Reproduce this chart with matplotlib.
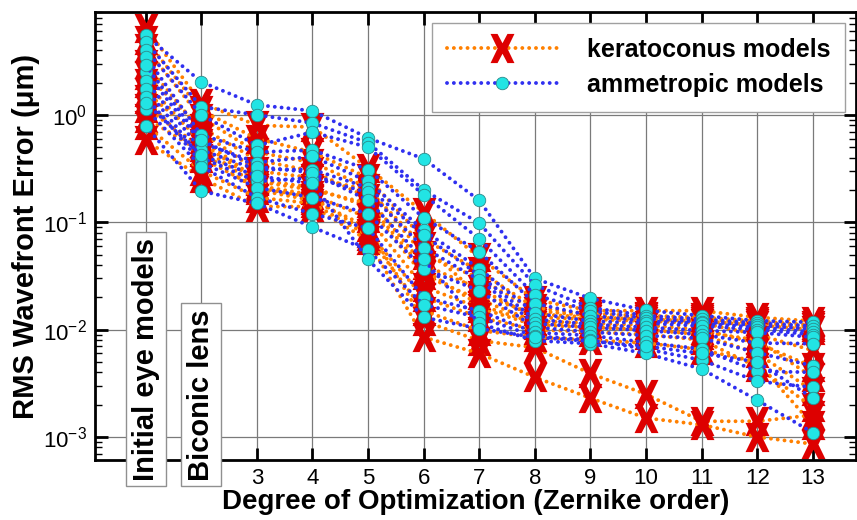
import numpy as np
import matplotlib
matplotlib.use("Agg")
import matplotlib.pyplot as plt
from matplotlib.path import Path
from matplotlib.transforms import blended_transform_factory
from matplotlib.ticker import LogLocator, NullFormatter, FixedLocator

plt.rcParams['font.family'] = ['Liberation Sans', 'DejaVu Sans']
plt.rcParams['mathtext.fontset'] = 'custom'
plt.rcParams['mathtext.rm'] = 'Liberation Sans'
plt.rcParams['mathtext.it'] = 'Liberation Sans:italic'
plt.rcParams['mathtext.bf'] = 'Liberation Sans:bold'

# Zernike optimization degree (1 = initial eye model, 2 = biconic lens)
degree = list(range(1, 14))
xtick_labels = ["", "", "3", "4", "5", "6", "7", "8", "9", "10", "11", "12", "13"]

# RMS wavefront error (um) of the keratoconus eye models
keratoconus = [
    [6.5, 1.29, 0.80, 0.77, 0.32, 0.124, 0.047, 0.019, 0.0150, 0.0150, 0.0150, 0.0130, 0.0120],
    [4.2, 0.94, 0.45, 0.36, 0.21, 0.050, 0.030, 0.0150, 0.0135, 0.0130, 0.0125, 0.0115, 0.0105],
    [2.36, 0.76, 0.38, 0.30, 0.17, 0.040, 0.024, 0.0130, 0.0125, 0.0120, 0.0115, 0.0090, 0.0064],
    [1.64, 0.60, 0.25, 0.21, 0.14, 0.032, 0.019, 0.0120, 0.0115, 0.0110, 0.0100, 0.0075, 0.0045],
    [1.16, 0.50, 0.22, 0.18, 0.11, 0.025, 0.016, 0.0110, 0.0105, 0.0100, 0.0090, 0.0060, 0.0027],
    [0.94, 0.45, 0.20, 0.16, 0.09, 0.012, 0.0079, 0.0068, 0.0039, 0.0025, 0.0014, 0.0014, 0.0016],
    [0.58, 0.26, 0.14, 0.14, 0.068, 0.0085, 0.0060, 0.0036, 0.0023, 0.0015, 0.0013, 0.0010, 0.00086],
    [3.0, 0.70, 0.30, 0.26, 0.20, 0.060, 0.021, 0.0140, 0.0130, 0.0125, 0.0120, 0.0110, 0.0100],
    [2.0, 0.55, 0.24, 0.20, 0.15, 0.036, 0.017, 0.0115, 0.0110, 0.0105, 0.0095, 0.0080, 0.0036],
    [1.4, 0.40, 0.21, 0.17, 0.08, 0.020, 0.013, 0.0100, 0.0095, 0.0090, 0.0080, 0.0045, 0.0019],
    [5.0, 1.10, 0.60, 0.45, 0.26, 0.070, 0.035, 0.0160, 0.0140, 0.0135, 0.0130, 0.0120, 0.0110],
    [0.80, 0.30, 0.17, 0.15, 0.075, 0.015, 0.0098, 0.0085, 0.0080, 0.0075, 0.0065, 0.0050, 0.0013],
]

# RMS wavefront error (um) of the ammetropic eye models
ammetropic = [
    [5.5, 2.03, 1.24, 1.09, 0.61, 0.39, 0.16, 0.030, 0.0195, 0.0151, 0.0135, 0.0121, 0.0117],
    [4.8, 1.19, 1.00, 0.84, 0.55, 0.20, 0.098, 0.026, 0.016, 0.0135, 0.0125, 0.0115, 0.0108],
    [4.05, 1.00, 0.52, 0.69, 0.50, 0.18, 0.070, 0.021, 0.0150, 0.0127, 0.0118, 0.0110, 0.0101],
    [3.5, 0.65, 0.45, 0.47, 0.31, 0.11, 0.053, 0.0175, 0.0135, 0.0120, 0.0114, 0.0105, 0.0095],
    [2.5, 0.55, 0.36, 0.41, 0.24, 0.084, 0.037, 0.0142, 0.0120, 0.0115, 0.0108, 0.0100, 0.0090],
    [2.08, 0.47, 0.31, 0.31, 0.21, 0.076, 0.032, 0.0125, 0.0112, 0.0105, 0.0098, 0.0094, 0.0085],
    [1.75, 0.40, 0.24, 0.26, 0.19, 0.058, 0.029, 0.0114, 0.0105, 0.0098, 0.0090, 0.0075, 0.0074],
    [1.48, 0.36, 0.21, 0.17, 0.12, 0.037, 0.023, 0.0105, 0.0095, 0.0088, 0.0083, 0.0061, 0.0046],
    [1.14, 0.33, 0.17, 0.12, 0.088, 0.020, 0.015, 0.0094, 0.0088, 0.0076, 0.0066, 0.0041, 0.0040],
    [0.79, 0.195, 0.15, 0.09, 0.055, 0.017, 0.013, 0.0087, 0.0080, 0.0066, 0.0052, 0.0033, 0.0029],
    [2.9, 0.58, 0.33, 0.29, 0.16, 0.045, 0.0114, 0.0079, 0.0074, 0.0060, 0.0043, 0.0022, 0.0011],
    [1.3, 0.42, 0.27, 0.23, 0.045, 0.013, 0.0102, 0.0085, 0.0078, 0.0070, 0.0060, 0.0050, 0.0023],
]

# tall letter-like "X" marker
t = 0.24   # half arm thickness
w, h = 0.82, 1.0
xverts = np.array([
    (-w, h), (-w + 2 * t, h), (0, t * 1.5), (w - 2 * t, h), (w, h),
    (t * 1.4, 0), (w, -h), (w - 2 * t, -h), (0, -t * 1.5), (-w + 2 * t, -h),
    (-w, -h), (-t * 1.4, 0), (-w, h)])
x_marker = Path(xverts, closed=True)

orange = '#ff8000'
blue = '#3030f0'
red = '#dd0000'
cyan = '#22e4e4'
dots = (0, (0.01, 1.75))
lw = 2.8

fig = plt.figure(figsize=(8.57, 5.2), dpi=100)
ax = fig.add_axes([0.111, 0.1154, 0.888, 0.8616])

for s in keratoconus:
    ax.plot(degree, s, linestyle=dots, dash_capstyle='round', lw=lw, color=orange,
            marker=x_marker, ms=21, mfc=red, mec=red, mew=0, zorder=2)
for s in ammetropic:
    ax.plot(degree, s, linestyle=dots, dash_capstyle='round', lw=lw, color=blue,
            marker='o', ms=9, mfc=cyan, mec='#2a8a8a', mew=0.6, zorder=3)

ax.set_yscale('log')
ax.set_xlim(0.09, 13.78)
ax.set_ylim(6.1e-4, 9.1)
ax.xaxis.set_major_locator(FixedLocator(degree))
ax.set_xticklabels(xtick_labels)
ax.yaxis.set_major_locator(LogLocator(base=10, numticks=10))
ax.yaxis.set_minor_locator(LogLocator(base=10, subs=np.arange(2, 10), numticks=10))
ax.yaxis.set_minor_formatter(NullFormatter())

ax.grid(True, which='major', color='#7a7a7a', lw=0.9)
ax.set_axisbelow(True)
ax.tick_params(axis='both', which='major', direction='in', length=9, width=2,
               top=True, right=True, labelsize=16, pad=6)
ax.tick_params(axis='y', which='minor', direction='in', length=5, width=1,
               left=True, right=True)
for sp in ax.spines.values():
    sp.set_linewidth(2)

ax.set_xlabel('Degree of Optimization (Zernike order)', fontsize=20,
              fontweight='bold', labelpad=0)
ax.set_ylabel('RMS Wavefront Error (\u03bcm)', fontsize=21, fontweight='bold', labelpad=2)

trans = blended_transform_factory(ax.transData, ax.transAxes)
box = dict(boxstyle='square,pad=0.2', fc='white', ec='#909090', lw=1)
ax.text(1, -0.046, 'Initial eye models', transform=trans, rotation=90, ha='center',
        va='bottom', fontsize=21, fontweight='bold', bbox=box, zorder=10, clip_on=False)
ax.text(2, -0.046, 'Biconic lens', transform=trans, rotation=90, ha='center',
        va='bottom', fontsize=21, fontweight='bold', bbox=box, zorder=10, clip_on=False)

h_k, = ax.plot([], [], linestyle=dots, dash_capstyle='round', lw=lw, color=orange,
               marker=x_marker, ms=21, mfc=red, mec=red, mew=0)
h_a, = ax.plot([], [], linestyle=dots, dash_capstyle='round', lw=lw, color=blue,
               marker='o', ms=9, mfc=cyan, mec='#2a8a8a', mew=0.6)
leg = ax.legend([h_k, h_a], ['keratoconus models', 'ammetropic models'],
                loc='upper right', bbox_to_anchor=(0.986, 0.976), borderaxespad=0,
                numpoints=1, handlelength=4.4, handletextpad=1.2, labelspacing=0.45,
                borderpad=0.6, fancybox=False, framealpha=1, edgecolor='#a0a0a0',
                prop={'weight': 'bold', 'size': 18})
leg.get_frame().set_linewidth(1)
leg.set_zorder(20)

fig.savefig('out.png', dpi=100)
